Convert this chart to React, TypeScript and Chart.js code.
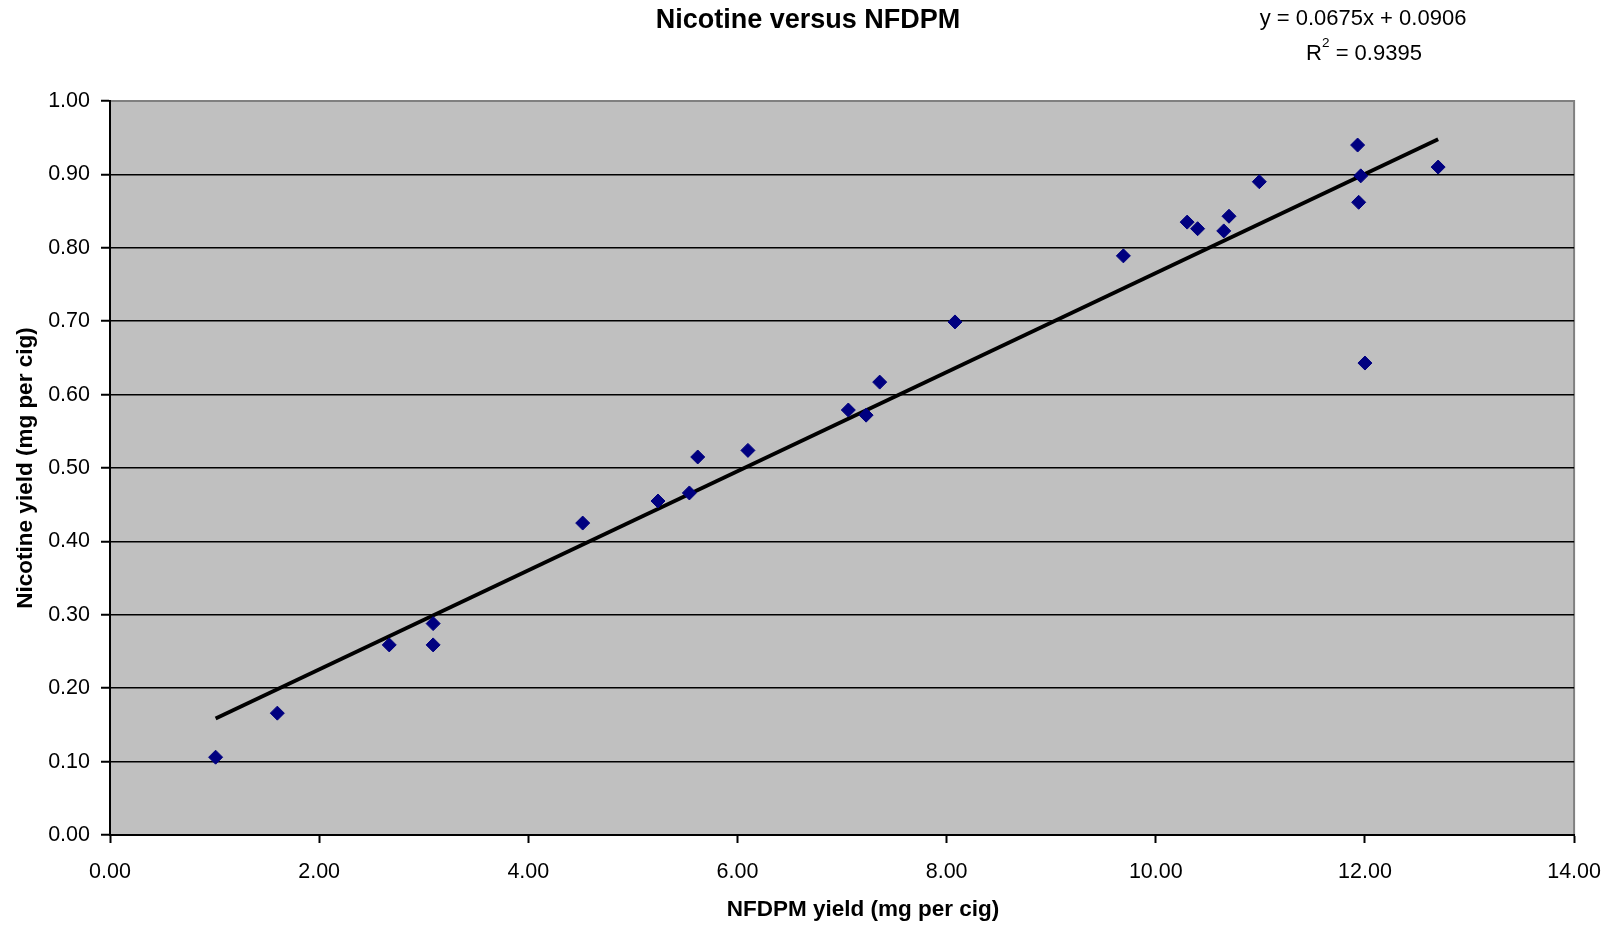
import React, { useEffect, useRef } from 'react';
import { Chart, registerables } from 'chart.js';

Chart.register(...registerables);

// ---- data ----
const nfdpmYield = [1.01, 1.60, 2.67, 3.09, 3.09, 4.52, 5.24, 5.54, 5.62, 6.10, 7.06, 7.23, 7.36, 8.08, 9.69, 10.30, 10.40, 10.65, 10.70, 10.99, 11.93, 11.96, 11.94, 12.00, 12.70];
const nicotineYield = [0.106, 0.166, 0.259, 0.288, 0.259, 0.425, 0.455, 0.466, 0.515, 0.524, 0.579, 0.572, 0.617, 0.699, 0.789, 0.835, 0.826, 0.823, 0.843, 0.890, 0.940, 0.898, 0.862, 0.643, 0.910];
const trendSlope = 0.0675;
const trendIntercept = 0.0906;
const rSquared = 0.9395;
const xRange = [0, 14];
const xStep = 2;
const yRange = [0, 1];
const yStep = 0.1;
const chartTitle = 'Nicotine versus NFDPM';
const xTitle = 'NFDPM yield (mg per cig)';
const yTitle = 'Nicotine yield (mg per cig)';

const FONT = "'Liberation Sans', Arial, Helvetica, sans-serif";

const plotBg = {
  id: 'plotBg',
  beforeDraw(chart: any) {
    const { ctx, chartArea } = chart;
    const { left, top, right, bottom } = chartArea;
    ctx.save();
    ctx.fillStyle = '#C0C0C0';
    ctx.fillRect(left, top, right - left, bottom - top);
    ctx.strokeStyle = '#808080';
    ctx.lineWidth = 2;
    ctx.strokeRect(left, top, right - left, bottom - top);
    ctx.restore();
  },
};

const texts = {
  id: 'texts',
  afterDraw(chart: any) {
    const { ctx } = chart;
    ctx.save();
    ctx.fillStyle = '#000';
    ctx.textBaseline = 'middle';
    ctx.textAlign = 'center';
    ctx.font = `bold 27px ${FONT}`;
    ctx.fillText(chartTitle, 808, 21);

    ctx.font = `22px ${FONT}`;
    ctx.fillText(`y = ${trendSlope}x + ${trendIntercept}`, 1363, 19);

    // R^2 line with superscript
    const r = 'R';
    const rest = ` = ${rSquared}`;
    ctx.font = `22px ${FONT}`;
    const wR = ctx.measureText(r).width;
    const wRest = ctx.measureText(rest).width;
    ctx.font = `13.5px ${FONT}`;
    const wSup = ctx.measureText('2').width;
    const total = wR + wSup + wRest;
    let x = 1364 - total / 2;
    ctx.textAlign = 'left';
    ctx.font = `22px ${FONT}`;
    ctx.fillText(r, x, 54);
    x += wR;
    ctx.font = `13.5px ${FONT}`;
    ctx.fillText('2', x, 43);
    x += wSup;
    ctx.font = `22px ${FONT}`;
    ctx.fillText(rest, x, 54);

    ctx.textAlign = 'center';
    ctx.font = `bold 22.5px ${FONT}`;
    ctx.fillText(xTitle, 863, 910);

    ctx.translate(26, 468);
    ctx.rotate(-Math.PI / 2);
    ctx.fillText(yTitle, 0, 0);
    ctx.restore();
  },
};

export default function App() {
  const ref = useRef<HTMLCanvasElement | null>(null);

  useEffect(() => {
    if (!ref.current) return;
    const points = nfdpmYield.map((x, i) => ({ x, y: nicotineYield[i] }));
    const xMin = Math.min(...nfdpmYield);
    const xMax = Math.max(...nfdpmYield);
    const trend = [
      { x: xMin, y: trendSlope * xMin + trendIntercept },
      { x: xMax, y: trendSlope * xMax + trendIntercept },
    ];
    const chart = new Chart(ref.current, {
      type: 'scatter',
      data: {
        datasets: [
          {
            label: 'Nicotine',
            data: points,
            pointStyle: 'rectRot',
            pointRadius: 7,
            pointBackgroundColor: '#000080',
            pointBorderColor: '#000080',
            pointBorderWidth: 1,
            order: 1,
          },
          {
            label: 'Trend',
            type: 'line',
            data: trend,
            borderColor: '#000',
            borderWidth: 3.8,
            pointRadius: 0,
            showLine: true,
            fill: false,
            order: 2,
          } as any,
        ],
      },
      options: {
        animation: false,
        responsive: false,
        devicePixelRatio: 1,
        layout: { padding: { top: 101, right: 37, left: 0, bottom: 0 } },
        plugins: {
          legend: { display: false },
          tooltip: { enabled: false },
          title: { display: false },
        },
        scales: {
          x: {
            type: 'linear',
            min: xRange[0],
            max: xRange[1],
            afterFit: (s: any) => { s.height = 93; },
            ticks: {
              stepSize: xStep,
              color: '#000',
              font: { family: FONT, size: 21.5 },
              padding: 16,
              maxRotation: 0,
              callback: (v: any) => Number(v).toFixed(2),
            },
            grid: {
              drawOnChartArea: false,
              drawTicks: true,
              tickLength: 8,
              tickColor: '#000',
              tickWidth: 2,
            },
            border: { color: '#000', width: 2 },
          },
          y: {
            type: 'linear',
            min: yRange[0],
            max: yRange[1],
            afterFit: (s: any) => { s.width = 110; },
            ticks: {
              stepSize: yStep,
              color: '#000',
              font: { family: FONT, size: 21.5 },
              padding: 11,
              callback: (v: any) => Number(v).toFixed(2),
            },
            grid: {
              color: (c: any) => (c.tick && c.tick.value > 0.999 ? 'rgba(0,0,0,0)' : '#000'),
              lineWidth: 1.5,
              tickLength: 9,
              tickColor: '#000',
              tickWidth: 2,
            },
            border: { color: '#000', width: 2 },
          },
        },
      },
      plugins: [plotBg, texts],
    });
    return () => chart.destroy();
  }, []);

  return (
    <div style={{ position: 'fixed', left: 0, top: 0, width: 1617, height: 928, background: '#fff' }}>
      <canvas ref={ref} width={1617} height={928} />
    </div>
  );
}
